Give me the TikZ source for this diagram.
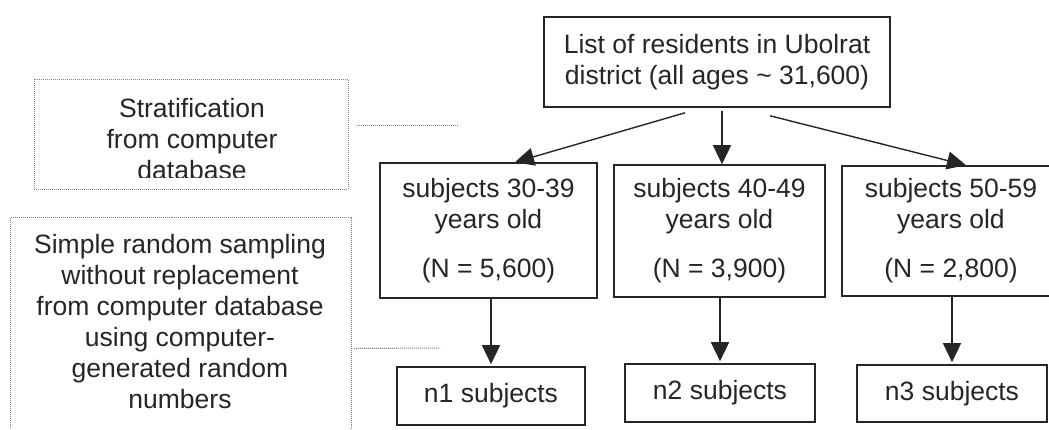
\documentclass[tikz,border=0pt]{standalone}
\usepackage{fontspec}
\setmainfont{Liberation Sans}
\usetikzlibrary{arrows.meta}
\begin{document}
\begin{tikzpicture}[x=1pt,y=-1pt,
  every node/.style={font=\fontsize{26.5}{31}\selectfont, text=black!85},
  solidbox/.style={draw=black!85, line width=1.6pt, inner sep=0pt, align=center},
  dotbox/.style={draw=black!50, line width=1pt, dash pattern=on 1pt off 1pt, inner sep=0pt},
  txt/.style={inner sep=0pt, align=center},
  arr/.style={draw=black!85, line width=1.4pt, -{Triangle[length=19pt,width=18pt]}},
  dotline/.style={draw=black!50, line width=1pt, dash pattern=on 1pt off 1pt}]
\fill[white] (0,0) rectangle (1049,429);
\useasboundingbox (0,0) rectangle (1049,429);

% main box
\node[solidbox, minimum width=346pt, minimum height=90pt] (main) at (717,62)
  {List of residents in Ubolrat\\district (all ages \textasciitilde{} 31,600)};

% strata
\node[solidbox, minimum width=217pt, minimum height=135pt] (A) at (488.5,230.5)
  {subjects 30-39\\years old\\[18pt](N = 5,600)};
\node[solidbox, minimum width=211pt, minimum height=132pt] (B) at (719.5,231)
  {subjects 40-49\\years old\\[18pt](N = 3,900)};
\node[solidbox, minimum width=218pt, minimum height=130pt] (C) at (951,231)
  {subjects 50-59\\years old\\[18pt](N = 2,800)};

% samples
\node[solidbox, minimum width=188pt, minimum height=58pt] (n1) at (491,396) {n1 subjects};
\node[solidbox, minimum width=190pt, minimum height=58pt] (n2) at (720,393) {n2 subjects};
\node[solidbox, minimum width=190pt, minimum height=57pt] (n3) at (952,393.5) {n3 subjects};

% left annotation boxes
\node[dotbox, minimum width=314pt, minimum height=110pt] (strat) at (191,134) {};
\begin{scope}
  \clip (34,79) rectangle (348,177);
  \node[txt, anchor=north] (strattxt) at (192,98) {Stratification\\from computer\\database};
\end{scope}
\node[dotbox, minimum width=341pt, minimum height=230pt, anchor=north west] (samp) at (10,217) {};
\node[txt, anchor=north] (samptxt) at (180,234)
  {Simple random sampling\\without replacement\\from computer database\\using computer-\\generated random\\numbers};

% dotted leaders
\coordinate (e1) at (458,125);
\coordinate (e2) at (440,348);
\draw[dotline] ([xshift=8pt,yshift=9pt]strat.east) -- (e1);
\draw[dotline] ([xshift=2pt,yshift=-16pt]samp.east) -- (e2);

% arrows
\draw[arr] ([xshift=-32pt,yshift=-5pt]main.south) -- ([xshift=26.5pt]A.north);
\draw[arr] ([xshift=5pt,yshift=-3pt]main.south) -- ([xshift=2.5pt]B.north);
\draw[arr] ([xshift=53pt,yshift=-8pt]main.south) -- ([xshift=15pt]C.north);
\draw[arr] (A.south -| n1.north) -- ([yshift=2pt]n1.north);
\draw[arr] (B.south -| n2.north) -- ([yshift=2pt]n2.north);
\draw[arr] (C.south -| n3.north) -- ([yshift=2pt]n3.north);
\end{tikzpicture}
\end{document}
